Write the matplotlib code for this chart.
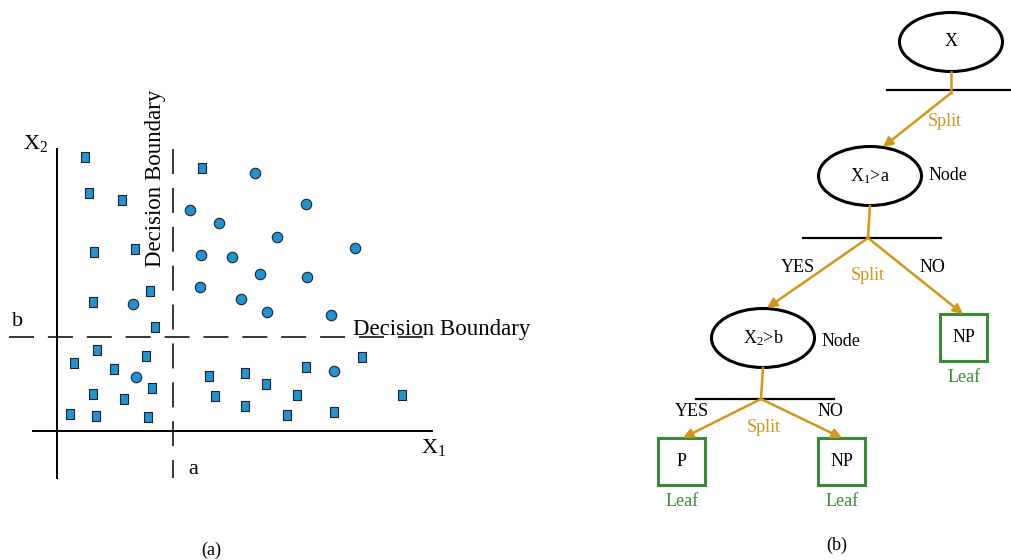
import matplotlib
matplotlib.use("Agg")
import matplotlib.pyplot as plt
from matplotlib.patches import Ellipse, Rectangle

plt.rcParams['font.family'] = ['Liberation Serif', 'DejaVu Serif']
plt.rcParams['mathtext.fontset'] = 'custom'
plt.rcParams['mathtext.rm'] = 'Liberation Serif'
plt.rcParams['mathtext.it'] = 'Liberation Serif:italic'
plt.rcParams['lines.scale_dashes'] = False

ORANGE = '#d4961a'
GREEN = '#3a8a3a'
BLUE = '#1f93d8'

# scatter data (panel a)
square_x = [85, 89, 122, 94, 135, 93, 150, 155, 202,
            97, 74, 114, 146, 93, 124, 152, 70, 96, 148,
            209, 245, 266, 306, 362, 215, 297, 245, 287, 334, 402]
square_y = [157, 193, 200, 252, 249, 302, 291, 327, 168,
            350, 363, 369, 356, 394, 399, 388, 414, 416, 417,
            376, 373, 384, 367, 357, 396, 395, 406, 415, 412, 395]
circle_x = [255, 306, 190, 219, 277, 355, 201, 232, 260, 307,
            200, 241, 267, 331, 133, 136, 334]
circle_y = [173, 204, 210, 223, 237, 248, 255, 257, 274, 277,
            287, 299, 312, 315, 304, 377, 371]

# tree (panel b)
node_labels = ['X', r'X$_1$>a', r'X$_2$>b']
node_x = [951, 870, 763]
node_y = [42, 176, 338]
leaf_labels = ['NP', 'P', 'NP']
leaf_x = [964, 682, 842]
leaf_y = [337, 461, 461]

fig = plt.figure(figsize=(10.12, 5.6), dpi=100)
ax = fig.add_axes([0, 0, 1, 1])
ax.set_xlim(0, 1012)
ax.set_ylim(560, 0)
ax.axis('off')

# ---- panel (a) ----
ax.plot([57, 57], [149, 478], color='black', lw=1.4)
ax.plot([33, 432], [431, 431], color='black', lw=1.4)
ax.plot([173, 173], [149, 478], color='black', lw=1.1, ls=(0, (18, 10)))
ax.plot([9, 431], [337, 337], color='black', lw=1.1, ls=(0, (18, 10)))

rect = [(-0.35, -0.5), (0.35, -0.5), (0.35, 0.5), (-0.35, 0.5), (-0.35, -0.5)]
ax.plot(square_x, square_y, ls='none', marker=rect, markersize=7.5,
        markerfacecolor=BLUE, markeredgecolor='#222222', markeredgewidth=0.8)
ax.plot(circle_x, circle_y, ls='none', marker='o', markersize=7.5,
        markerfacecolor=BLUE, markeredgecolor='#222222', markeredgewidth=0.8)

ax.text(23, 143, r'X$_2$', fontsize=16, ha='left', va='center')
ax.text(12, 326, 'b', fontsize=16, ha='left', va='baseline')
ax.text(421, 447, r'X$_1$', fontsize=16, ha='left', va='center')
ax.text(188, 470, 'a', fontsize=16, ha='left', va='center')
ax.text(156, 178, 'Decision Boundary', fontsize=16.5, rotation=90,
        ha='center', va='center')
ax.text(353, 335, 'Decision Boundary', fontsize=16.5, ha='left', va='baseline')
ax.text(211, 550, '(a)', fontsize=13, ha='center', va='center')

# ---- panel (b) ----
for lab, x, y in zip(node_labels, node_x, node_y):
    ax.add_patch(Ellipse((x, y), 103, 59, fill=False, ec='black', lw=2.2))
    ax.text(x, y, lab, fontsize=13, ha='center', va='center')

for lab, x, y in zip(leaf_labels, leaf_x, leaf_y):
    ax.add_patch(Rectangle((x - 23.5, y - 23.5), 47, 47, fill=False,
                           ec=GREEN, lw=2.2))
    ax.text(x, y, lab, fontsize=13, ha='center', va='center')
    ax.text(x, y + 41, 'Leaf', fontsize=13, ha='center', va='center',
            color=GREEN)

# split bars
ax.plot([887, 1012], [90, 90], color='black', lw=1.6)
ax.plot([803, 941], [238, 238], color='black', lw=1.6)
ax.plot([696, 834], [399, 399], color='black', lw=1.6)

# stems
ax.plot([951, 951], [72, 93], color=ORANGE, lw=1.8)
ax.plot([870, 868], [206, 238], color=ORANGE, lw=1.8)
ax.plot([763, 761], [368, 399], color=ORANGE, lw=1.8)

arrows = [((951, 93), (883, 147)),
          ((868, 238), (767, 308)),
          ((868, 238), (963, 314)),
          ((761, 399), (683, 438)),
          ((761, 399), (842, 438))]
for start, tip in arrows:
    ax.annotate('', xy=tip, xytext=start,
                arrowprops=dict(arrowstyle='-|>', color=ORANGE, lw=1.8,
                                mutation_scale=14, shrinkA=0, shrinkB=0))

ax.text(945, 121, 'Split', fontsize=13, color=ORANGE, ha='center', va='center')
ax.text(868, 276, 'Split', fontsize=13, color=ORANGE, ha='center', va='center')
ax.text(764, 427, 'Split', fontsize=13, color=ORANGE, ha='center', va='center')
ax.text(929, 176, 'Node', fontsize=13, ha='left', va='center')
ax.text(822, 342, 'Node', fontsize=13, ha='left', va='center')
ax.text(798, 267, 'YES', fontsize=13, ha='center', va='center')
ax.text(932, 267, 'NO', fontsize=13, ha='center', va='center')
ax.text(692, 411, 'YES', fontsize=13, ha='center', va='center')
ax.text(830, 411, 'NO', fontsize=13, ha='center', va='center')
ax.text(837, 545, '(b)', fontsize=13, ha='center', va='center')

fig.savefig('out.png', dpi=100)
